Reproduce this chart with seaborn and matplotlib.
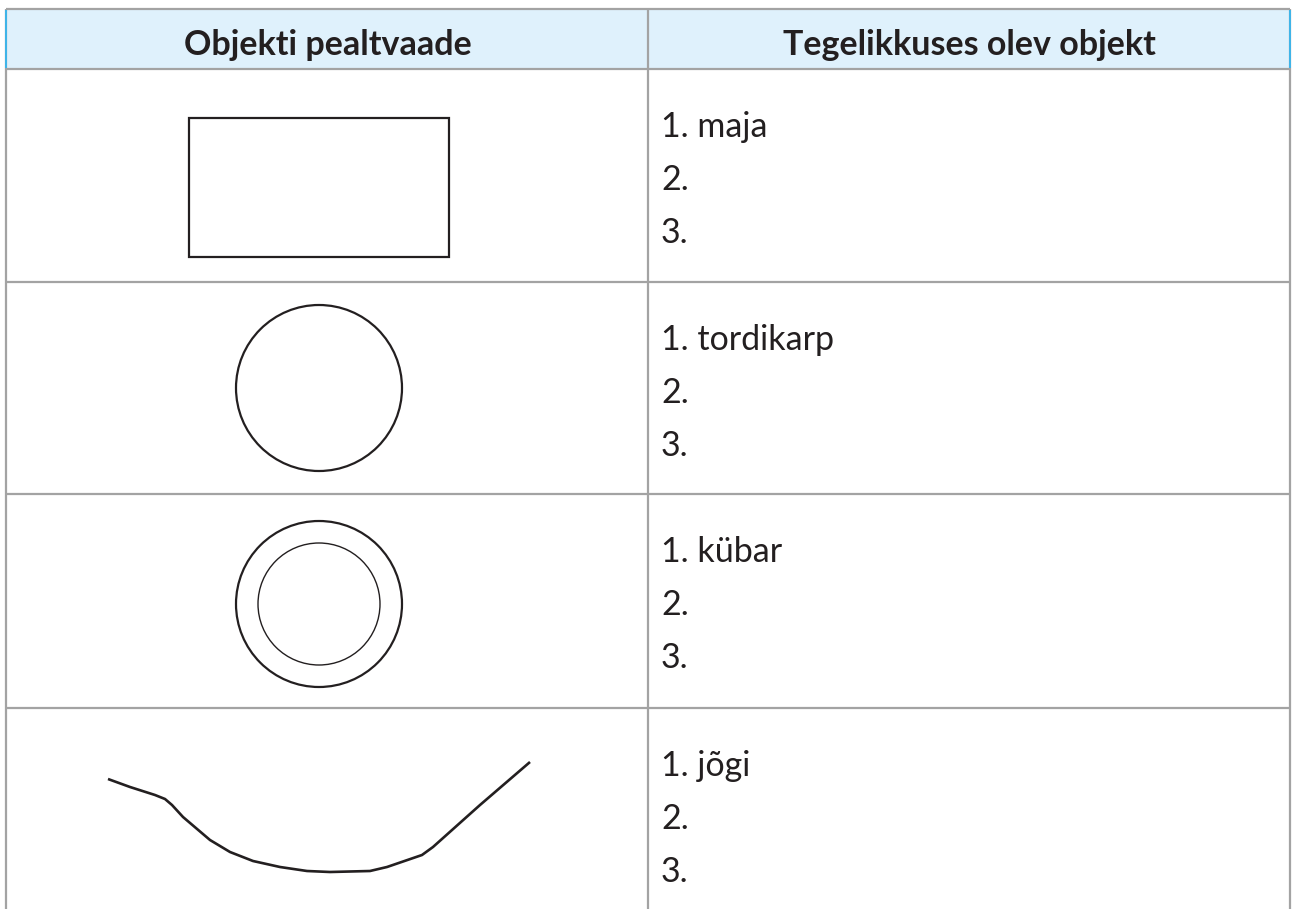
import matplotlib

matplotlib.use("Agg")
import matplotlib.pyplot as plt
import pandas as pd
import seaborn as sns
from matplotlib.patches import Circle, Rectangle

# table content
col_headers = ["Objekti pealtvaade", "Tegelikkuses olev objekt"]
first_answers = ["maja", "tordikarp", "kübar", "jõgi"]
answer_numbers = ["1.", "2.", "3."]

# top-view shapes (pixel coordinates, y downwards)
house_box = [189, 118, 449, 257]  # x0, y0, x1, y1
cake_circle = [319, 388, 83]  # cx, cy, r
hat_outer = [319, 604, 83]
hat_inner = [319, 604, 61]
river_x = [108, 130, 155, 165, 172, 183, 210, 230, 253, 280, 307, 330, 370, 387, 422, 433, 480, 530]
river_y = [779, 787, 795, 799, 805, 817, 840, 852, 861, 867, 871, 872, 871, 867, 855, 847, 805, 762]

# layout
W, H = 1292, 909
left, mid, right = 6, 648, 1290
top, head_bottom = 9, 69
row_tops = [head_bottom, 282, 494, 708]
line_gap = 53

INK = "#231F20"
GRID = "#A3A3A3"
HEAD_BG = "#DFF1FC"

sns.set_theme(style="white")
plt.rcParams["font.family"] = ["Lato", "DejaVu Sans"]

fig = plt.figure(figsize=(W / 100, H / 100), dpi=100)
ax = fig.add_axes([0, 0, 1, 1])

# header band
ax.add_patch(Rectangle((left, top), right - left, head_bottom - top,
                       facecolor=HEAD_BG, edgecolor="none", zorder=0))
for x_c, label in zip([(left + mid) / 2 + 1, (mid + right) / 2], col_headers):
    ax.text(x_c, 55, label, ha="center", va="baseline", fontsize=24.5,
            fontweight="bold", color=INK)

# grid lines
ax.hlines([top, head_bottom] + row_tops[1:], left, right, color=GRID, lw=1.6, zorder=2)
ax.vlines([left, mid, right], top, H, color=GRID, lw=1.6, zorder=2)
ax.vlines([left, right], top + 1, head_bottom - 1, color="#3DB5EA", lw=1.4, zorder=3)

# answer lines
for row_top, answer in zip(row_tops, first_answers):
    for i, num in enumerate(answer_numbers):
        txt = f"{num} {answer}" if i == 0 else num
        ax.text(661, row_top + 68 + i * line_gap, txt, ha="left", va="baseline",
                fontsize=24.5, color=INK)

# shapes
x0, y0, x1, y1 = house_box
ax.add_patch(Rectangle((x0, y0), x1 - x0, y1 - y0, fill=False, edgecolor=INK, lw=1.6))
for (cx, cy, r), lw in [(cake_circle, 1.6), (hat_outer, 1.6), (hat_inner, 1.0)]:
    ax.add_patch(Circle((cx, cy), r, fill=False, edgecolor=INK, lw=lw))

river = pd.DataFrame({"x": river_x, "y": river_y})
sns.lineplot(data=river, x="x", y="y", sort=False, color=INK, lw=1.9, ax=ax,
             estimator=None, solid_joinstyle="round", solid_capstyle="butt")

ax.set_xlim(0, W)
ax.set_ylim(H, 0)
ax.axis("off")

fig.savefig("out.png", dpi=100)
